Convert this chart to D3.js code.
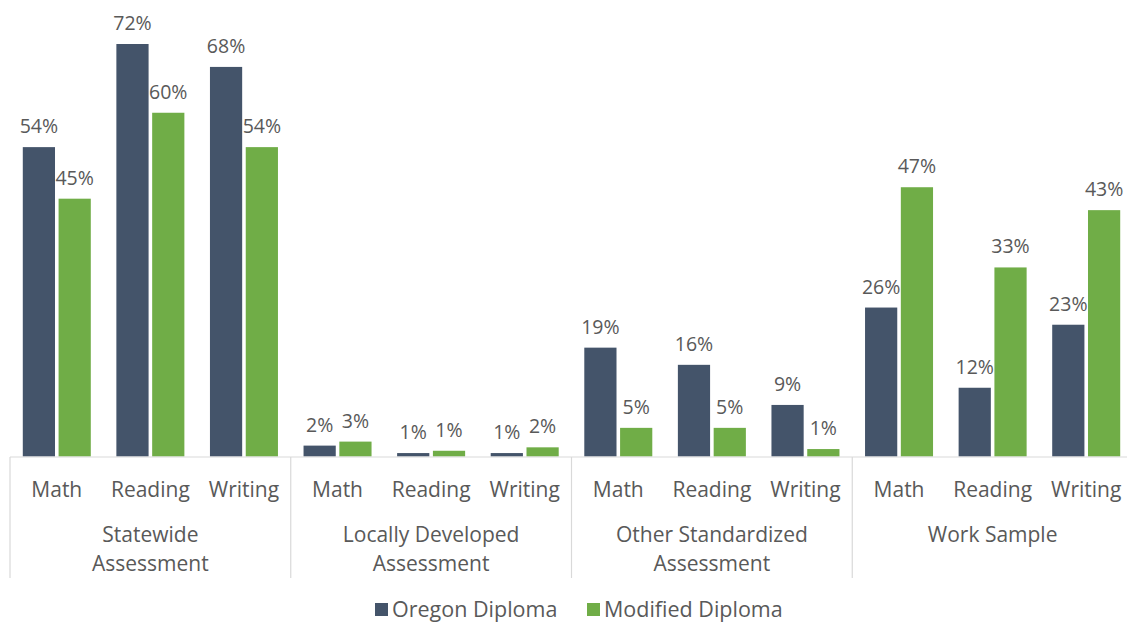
<!DOCTYPE html>
<html><head><meta charset="utf-8">
<script src="https://cdn.jsdelivr.net/npm/d3@7"></script>
<style>body{margin:0;background:#fff;} svg{display:block;} text{font-family:"Open Sans",sans-serif;fill:#595959;}</style>
</head><body><svg id="c" width="1127" height="623"></svg>
<script>
const groups = ["Statewide\nAssessment","Locally Developed\nAssessment","Other Standardized\nAssessment","Work Sample"];
const subjects = ["Math","Reading","Writing"];
const seriesNames = ["Oregon Diploma","Modified Diploma"];
const colors = ["#44546a","#70ad47"];
const oregon =   [54,72,68, 1.9,0.6,0.6, 19,16,9, 26,12,23];
const modified = [45,60,54, 2.6,1.0,1.6, 5,5,1.3, 47,33,43];

const svg = d3.select("#c");
const x0 = d3.scaleBand().domain(groups).range([10,1133]);
const xc = d3.scaleBand().domain(subjects).range([0,x0.bandwidth()]);
const xs = d3.scaleBand().domain(seriesNames).range([xc.bandwidth()/2-34, xc.bandwidth()/2+34]).paddingInner(0.1);
const y = d3.scaleLinear().domain([0,72]).range([456.5,44]);

const rows = [];
groups.forEach((g,gi)=>subjects.forEach((s,si)=>{
  const i = gi*3+si;
  rows.push({g,s,vals:[oregon[i],modified[i]]});
}));

const cat = svg.selectAll("g.cat").data(rows).join("g")
  .attr("transform",d=>`translate(${x0(d.g)+xc(d.s)},0)`);
cat.selectAll("rect").data(d=>d.vals.map((v,k)=>({v,k}))).join("rect")
  .attr("x",d=>xs(seriesNames[d.k])).attr("width",xs.bandwidth())
  .attr("y",d=>y(d.v)).attr("height",d=>y(0)-y(d.v)).attr("fill",d=>colors[d.k]);
cat.selectAll("text.val").data(d=>d.vals.map((v,k)=>({v,k}))).join("text").attr("class","val")
  .attr("x",d=>xs(seriesNames[d.k])+xs.bandwidth()/2).attr("y",d=>y(d.v)-14)
  .attr("text-anchor","middle").attr("font-size",19.5).text(d=>Math.round(d.v)+"%");
cat.append("text").attr("x",xc.bandwidth()/2).attr("y",497).attr("text-anchor","middle")
  .attr("font-size",21).text(d=>d.s);

// axis baseline and separators
svg.append("line").attr("x1",10).attr("x2",1133).attr("y1",457).attr("y2",457).attr("stroke","#d9d9d9").attr("stroke-width",1.2);
groups.forEach(g=>{
  svg.append("line").attr("x1",x0(g)).attr("x2",x0(g)).attr("y1",457).attr("y2",578).attr("stroke","#d9d9d9").attr("stroke-width",1.2);
  const lines = g.split("\n");
  lines.forEach((l,li)=>svg.append("text").attr("x",x0(g)+x0.bandwidth()/2).attr("y",542+li*29)
    .attr("text-anchor","middle").attr("font-size",21).text(l));
});

// legend
const leg = [{x:375},{x:587}];
seriesNames.forEach((n,k)=>{
  svg.append("rect").attr("x",leg[k].x).attr("y",603).attr("width",13).attr("height",13).attr("fill",colors[k]);
  svg.append("text").attr("x",leg[k].x+17).attr("y",617).attr("font-size",21.5).text(n);
});
</script></body></html>
